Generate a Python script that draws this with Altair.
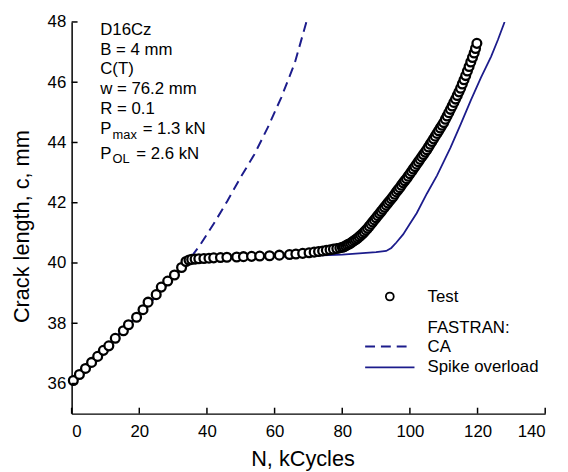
import altair as alt
import pandas as pd

FONT = "Liberation Sans"
NAVY = "#1c1c8c"

# ---------------- data ----------------
test_N = [0.5, 2.3, 4.1, 5.9, 7.7, 9.4, 11.0, 12.9, 15.3, 16.8, 19.2, 21.1, 22.6, 25.0, 26.5, 28.4,
          30.4, 32.5, 33.8, 34.7,
          35.5, 36.5, 37.6, 39.1, 40.6, 42.0, 44.0, 45.9, 48.8, 50.8, 53.2, 55.6, 58.5, 61.4, 64.4,
          66.3, 68.3, 70.2, 71.7, 73.0, 74.2, 75.3, 76.4, 77.4, 78.4, 79.3,
          80.0, 80.5, 81.0, 81.5, 82.0, 82.5, 83.0, 83.5, 84.0, 84.5, 85.0, 85.5, 86.0, 86.5, 87.0,
          87.5, 88.0, 88.5, 89.0, 89.5, 90.0, 90.5, 91.0, 91.5, 92.0, 92.5, 93.0, 93.5, 94.0, 94.5,
          95.0, 95.5, 96.0, 96.5, 97.0, 97.5, 98.0, 98.5, 99.0, 99.5, 100.0, 100.5, 101.0, 101.5,
          102.0, 102.5, 103.0, 103.5, 104.0, 104.5, 105.0, 105.5, 106.0, 106.5, 107.0, 107.5, 108.0,
          108.5, 109.0, 109.5, 110.0, 110.5, 111.0, 111.5, 112.0, 112.5, 113.0, 113.5, 114.0, 114.5,
          115.0, 115.5, 116.0, 116.5, 117.0, 117.5, 118.0, 118.5, 119.0, 119.4, 119.8]
test_c = [36.10, 36.30, 36.50, 36.70, 36.90, 37.10, 37.25, 37.50, 37.75, 37.95, 38.20, 38.45, 38.70,
          38.95, 39.20, 39.40, 39.60, 39.85, 40.05, 40.10,
          40.12, 40.13, 40.14, 40.15, 40.16, 40.17, 40.18, 40.19, 40.20, 40.21, 40.22, 40.23, 40.24,
          40.26, 40.28, 40.30, 40.32, 40.34, 40.36, 40.38, 40.40, 40.42, 40.44, 40.46, 40.48, 40.50,
          40.52, 40.54, 40.57, 40.60, 40.63, 40.66, 40.70, 40.74, 40.78, 40.82, 40.87, 40.92, 40.97,
          41.03, 41.09, 41.15, 41.22, 41.29, 41.36, 41.43, 41.50, 41.57, 41.64, 41.71, 41.78, 41.85,
          41.92, 41.99, 42.06, 42.13, 42.20, 42.28, 42.36, 42.43, 42.50, 42.58, 42.66, 42.73, 42.80,
          42.88, 42.96, 43.04, 43.12, 43.20, 43.28, 43.36, 43.44, 43.52, 43.60, 43.68, 43.76, 43.85,
          43.94, 44.03, 44.12, 44.21, 44.30, 44.39, 44.48, 44.57, 44.66, 44.77, 44.88, 44.99, 45.10,
          45.21, 45.33, 45.44, 45.56, 45.68, 45.80, 45.94, 46.08, 46.22, 46.37, 46.52, 46.67, 46.82,
          46.97, 47.12, 47.29]

ca_N = [0, 5, 10, 15, 20, 25, 30, 34, 38, 42, 46, 50, 54, 58, 62, 66, 69.4]
ca_c = [36.05, 36.6, 37.2, 37.75, 38.3, 38.9, 39.5, 40.0, 40.6, 41.3, 42.05, 42.85, 43.6, 44.5,
        45.5, 46.65, 48.0]

ol_N = [0, 5, 10, 15, 20, 25, 30, 33.5, 35, 37, 40, 50, 60, 70, 80, 90, 93, 94.5, 96, 98, 100,
        102, 105, 108, 112, 115, 118, 121, 124, 126, 128]
ol_c = [36.05, 36.6, 37.2, 37.75, 38.3, 38.9, 39.5, 39.95, 40.08, 40.11, 40.13, 40.17, 40.2,
        40.24, 40.28, 40.36, 40.4, 40.5, 40.68, 40.95, 41.3, 41.65, 42.3, 42.9, 43.83, 44.6, 45.4,
        46.15, 46.85, 47.4, 48.0]

x_ticks = [0, 20, 40, 60, 80, 100, 120, 140]
y_ticks = [36, 38, 40, 42, 44, 46, 48]

info_lines = ["D16Cz", "B = 4 mm", "C(T)", "w = 76.2 mm", "R = 0.1"]
legend_labels = ["Test", "FASTRAN:", "CA", "Spike overload"]

# ---------------- chart ----------------
W, H = 480, 397
xs = alt.Scale(domain=[0, 140], nice=False, zero=False)
ys = alt.Scale(domain=[35, 48], nice=False, zero=False)

x_axis = alt.Axis(values=x_ticks, title="N, kCycles", tickSize=0, labelPadding=10,
                  grid=False, titleAlign="center", titleBaseline="alphabetic",
                  titleX=234, titleY=53)
y_axis = alt.Axis(values=y_ticks, title="Crack length, c, mm", tickSize=0, labelPadding=6,
                  grid=False, titleAngle=270, titleAlign="center", titleBaseline="alphabetic",
                  titleX=-44, titleY=207)

X = lambda: alt.X("N:Q", scale=xs, axis=x_axis)
Y = lambda: alt.Y("c:Q", scale=ys, axis=y_axis)

test_df = pd.DataFrame({"N": test_N, "c": test_c})
ca_df = pd.DataFrame({"N": ca_N, "c": ca_c})
ol_df = pd.DataFrame({"N": ol_N, "c": ol_c})

ca_line = alt.Chart(ca_df).mark_line(color=NAVY, strokeWidth=2, strokeDash=[10, 6], clip=True).encode(
    x=X(), y=Y())
ol_line = alt.Chart(ol_df).mark_line(color=NAVY, strokeWidth=1.8, clip=True).encode(x=X(), y=Y())
pts = alt.Chart(test_df).mark_point(shape="circle", size=80, filled=False, fill="white",
                                    fillOpacity=1, stroke="black", strokeWidth=2.3,
                                    opacity=1).encode(x=X(), y=Y())

xt = alt.Chart(pd.DataFrame({"N": x_ticks})).mark_rule(color="black", strokeWidth=1.5).encode(
    x=X(), y=alt.value(H), y2=alt.value(H - 6))
yt = alt.Chart(pd.DataFrame({"c": y_ticks})).mark_rule(color="black", strokeWidth=1.5).encode(
    y=Y(), x=alt.value(0), x2=alt.value(6))

one = pd.DataFrame({"k": [0]})
def txt(s, x, y, size=17):
    return alt.Chart(one).mark_text(text=s, font=FONT, fontSize=size, align="left",
                                    baseline="middle", color="black").encode(
        x=alt.value(x), y=alt.value(y))

info = alt.Chart(one).mark_text(text=info_lines, font=FONT, fontSize=17, align="left",
                                baseline="top", lineHeight=20, color="black").encode(
    x=alt.value(29), y=alt.value(0))

pmax = [txt("P", 29, 108.5), txt("max", 41.5, 115, 13), txt("= 1.3 kN", 72, 108.5)]
pol = [txt("P", 29, 133.5), txt("OL", 41.5, 139, 13), txt("= 2.6 kN", 65.5, 133.5)]

leg_pt = alt.Chart(one).mark_point(shape="circle", size=64, filled=False, fill="white",
                                   fillOpacity=1, stroke="black", strokeWidth=1.8).encode(
    x=alt.value(322.5), y=alt.value(278.3))
leg_ca = alt.Chart(one).mark_rule(color=NAVY, strokeWidth=2, strokeDash=[10, 6]).encode(
    x=alt.value(297.5), x2=alt.value(342.5), y=alt.value(329))
leg_ol = alt.Chart(one).mark_rule(color=NAVY, strokeWidth=1.8).encode(
    x=alt.value(297.5), x2=alt.value(347.5), y=alt.value(350))
leg_txt = [txt(legend_labels[0], 360.8, 279.3), txt(legend_labels[1], 360.8, 310.3),
           txt(legend_labels[2], 360.8, 329.3), txt(legend_labels[3], 360.8, 350.3)]

chart = alt.layer(
    ca_line, ol_line, pts, xt, yt, info, *pmax, *pol, leg_pt, leg_ca, leg_ol, *leg_txt
).properties(
    width=W, height=H,
    autosize=alt.AutoSizeParams(type="none"),
    padding={"left": 64.5, "top": 11, "right": 15, "bottom": 56},
    background="white",
).configure_view(stroke=None).configure_axis(
    domainColor="black", domainWidth=1.5, labelFont=FONT, labelFontSize=17, labelColor="black",
    titleFont=FONT, titleFontSize=22, titleFontWeight="normal", titleColor="black",
)

chart.save("out.html", embed_options={"renderer": "svg", "actions": False})
